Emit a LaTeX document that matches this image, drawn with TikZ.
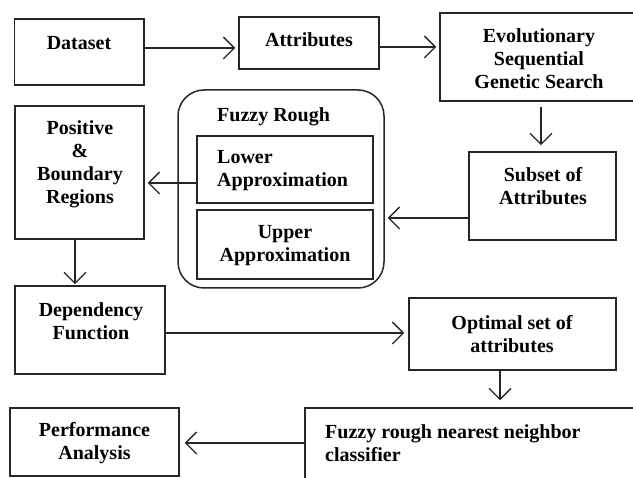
\documentclass[tikz,border=0pt]{standalone}
\usepackage{fontspec}
\setmainfont{Liberation Serif}
\usetikzlibrary{arrows.meta,fit}
\begin{document}
\begin{tikzpicture}[x=1pt,y=-1pt,
  box/.style={draw=black!85, line width=1.5pt, inner sep=0pt, fit={#1}},
  lbl/.style={inner sep=0pt, align=center, font=\bfseries\fontsize{20}{23}\selectfont},
  lbll/.style={inner sep=0pt, align=left, anchor=west, font=\bfseries\fontsize{20}{23}\selectfont},
  arr/.style={draw=black!85, line width=1.4pt, -{Straight Barb[length=11pt,width=22pt,line width=1.4pt]}}]
\useasboundingbox[fill=white] (0,0) rectangle (633,478);

% boxes
\node[box={(14.5,19) (144,85)}] (dataset) {};
\node[box={(239,17) (379,69)}] (attr) {};
\node[box={(440,13) (660,101)}] (evol) {};
\node[box={(15,106) (144,239)}] (pos) {};
\node[box={(178,90) (384,288)}, rounded corners=26pt] (fr) {};
\node[box={(197,136) (373,203)}] (lower) {};
\node[box={(197,210) (373,279)}] (upper) {};
\node[box={(469,152) (616,240)}] (subset) {};
\node[box={(15,286) (165,374)}] (dep) {};
\node[box={(409,298) (616,370)}] (opt) {};
\node[box={(305,408) (660,500)}] (clf) {};
\node[box={(10,408) (179,476)}] (perf) {};

% texts
\node[lbl] (tdataset) at (79,43) {Dataset};
\node[lbl] (tattr) at (309,40) {Attributes};
\node[lbl] (tevol) at (539,59) {Evolutionary\\Sequential\\Genetic Search};
\node[lbll] (tfr) at (217,117) {Fuzzy Rough};
\node[lbll] (tlower) at (217,171) {Lower\\Approximation};
\node[lbl] (tupper) at (285,246) {Upper\\Approximation};
\node[lbl] (tpos) at (80,164) {Positive\\\&\\Boundary\\Regions};
\node[lbl] (tsubset) at (543,186.5) {Subset of\\Attributes};
\node[lbl] (tdep) at (91,321.5) {Dependency\\Function};
\node[lbl] (topt) at (512,334.5) {Optimal set of\\attributes};
\node[lbll] (tclf) at (325,443) {Fuzzy rough nearest neighbor\\classifier};
\node[lbl] (tperf) at (94.5,443.5) {Performance\\Analysis};

% helper coordinates
\coordinate (r1) at (0,48);
\coordinate (r2) at (0,47);
\coordinate (c1) at (541,0);
\coordinate (r3) at (0,218);
\coordinate (r4) at (0,183);
\coordinate (c2) at (75,0);
\coordinate (r5) at (0,333);
\coordinate (c3) at (500,0);
\coordinate (r6) at (0,443);

% connectors
\draw[arr] (dataset.east |- r1) -- ([xshift=-3pt]attr.west |- r1);
\draw[arr] (attr.east |- r2) -- ([xshift=-3pt]evol.west |- r2);
\draw[arr] ([yshift=-5pt]evol.south -| c1) -- ([yshift=6pt]subset.north -| c1);
\draw[arr] (subset.west |- r3) -- ([xshift=3pt]fr.east |- r3);
\draw[arr] (lower.west |- r4) -- ([xshift=3pt]pos.east |- r4);
\draw[arr] (pos.south -| c2) -- ([yshift=1pt]dep.north -| c2);
\draw[arr] (dep.east |- r5) -- ([xshift=-4pt]opt.west |- r5);
\draw[arr] (opt.south -| c3) -- ([yshift=7pt]clf.north -| c3);
\draw[arr] (clf.west |- r6) -- ([xshift=5pt]perf.east |- r6);
\end{tikzpicture}
\end{document}
